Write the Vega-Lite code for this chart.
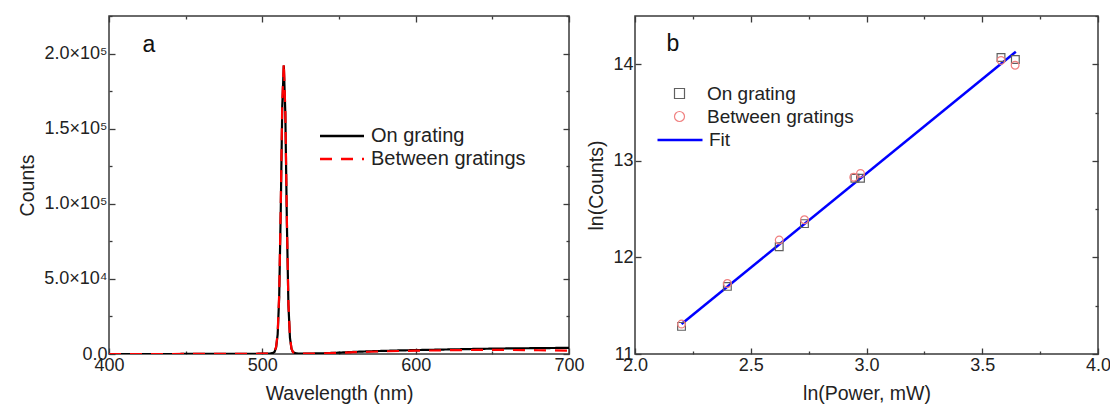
{
  "$schema": "https://vega.github.io/schema/vega-lite/v6.json",
  "padding": {"left": 16, "top": 14, "right": 8, "bottom": 0},
  "spacing": 1,
  "config": {
    "font": "Liberation Sans",
    "view": {"stroke": "#3a3a3a", "strokeWidth": 1.5},
    "axis": {"grid": false, "domain": false, "labelFontSize": 18, "titleFontSize": 19.5, "labelColor": "#222222", "titleColor": "#222222", "titleFontWeight": "normal", "tickColor": "#3a3a3a", "tickWidth": 1.3, "labelPadding": 8, "labelFlush": false},
    "legend": {"labelFontSize": 19, "labelColor": "#222222", "padding": 0}
  },
  "datasets": {
    "spectrum": [
      {"wavelength": 400, "counts": 0, "series": "On grating"},
      {"wavelength": 420, "counts": 0, "series": "On grating"},
      {"wavelength": 440, "counts": 0, "series": "On grating"},
      {"wavelength": 460, "counts": 50, "series": "On grating"},
      {"wavelength": 480, "counts": 100, "series": "On grating"},
      {"wavelength": 500, "counts": 200, "series": "On grating"},
      {"wavelength": 505, "counts": 300, "series": "On grating"},
      {"wavelength": 507, "counts": 700, "series": "On grating"},
      {"wavelength": 508, "counts": 1500, "series": "On grating"},
      {"wavelength": 509, "counts": 4500, "series": "On grating"},
      {"wavelength": 510, "counts": 13000, "series": "On grating"},
      {"wavelength": 511, "counts": 38000, "series": "On grating"},
      {"wavelength": 512, "counts": 95000, "series": "On grating"},
      {"wavelength": 513, "counts": 165000, "series": "On grating"},
      {"wavelength": 514, "counts": 192000, "series": "On grating"},
      {"wavelength": 515, "counts": 160000, "series": "On grating"},
      {"wavelength": 516, "counts": 88000, "series": "On grating"},
      {"wavelength": 517, "counts": 33000, "series": "On grating"},
      {"wavelength": 518, "counts": 11000, "series": "On grating"},
      {"wavelength": 519, "counts": 3500, "series": "On grating"},
      {"wavelength": 520, "counts": 1200, "series": "On grating"},
      {"wavelength": 522, "counts": 400, "series": "On grating"},
      {"wavelength": 525, "counts": 200, "series": "On grating"},
      {"wavelength": 530, "counts": 250, "series": "On grating"},
      {"wavelength": 540, "counts": 500, "series": "On grating"},
      {"wavelength": 550, "counts": 900, "series": "On grating"},
      {"wavelength": 560, "counts": 1400, "series": "On grating"},
      {"wavelength": 570, "counts": 1800, "series": "On grating"},
      {"wavelength": 580, "counts": 2100, "series": "On grating"},
      {"wavelength": 590, "counts": 2400, "series": "On grating"},
      {"wavelength": 600, "counts": 2600, "series": "On grating"},
      {"wavelength": 620, "counts": 3000, "series": "On grating"},
      {"wavelength": 640, "counts": 3400, "series": "On grating"},
      {"wavelength": 660, "counts": 3700, "series": "On grating"},
      {"wavelength": 680, "counts": 3900, "series": "On grating"},
      {"wavelength": 700, "counts": 4100, "series": "On grating"},
      {"wavelength": 400, "counts": 0, "series": "Between gratings"},
      {"wavelength": 420, "counts": 0, "series": "Between gratings"},
      {"wavelength": 440, "counts": 0, "series": "Between gratings"},
      {"wavelength": 460, "counts": 50, "series": "Between gratings"},
      {"wavelength": 480, "counts": 100, "series": "Between gratings"},
      {"wavelength": 500, "counts": 200, "series": "Between gratings"},
      {"wavelength": 505, "counts": 300, "series": "Between gratings"},
      {"wavelength": 507, "counts": 700, "series": "Between gratings"},
      {"wavelength": 508, "counts": 1600, "series": "Between gratings"},
      {"wavelength": 509, "counts": 4800, "series": "Between gratings"},
      {"wavelength": 510, "counts": 14000, "series": "Between gratings"},
      {"wavelength": 511, "counts": 40000, "series": "Between gratings"},
      {"wavelength": 512, "counts": 98000, "series": "Between gratings"},
      {"wavelength": 513, "counts": 168000, "series": "Between gratings"},
      {"wavelength": 514, "counts": 194000, "series": "Between gratings"},
      {"wavelength": 515, "counts": 162000, "series": "Between gratings"},
      {"wavelength": 516, "counts": 90000, "series": "Between gratings"},
      {"wavelength": 517, "counts": 34000, "series": "Between gratings"},
      {"wavelength": 518, "counts": 11500, "series": "Between gratings"},
      {"wavelength": 519, "counts": 3600, "series": "Between gratings"},
      {"wavelength": 520, "counts": 1200, "series": "Between gratings"},
      {"wavelength": 522, "counts": 400, "series": "Between gratings"},
      {"wavelength": 525, "counts": 200, "series": "Between gratings"},
      {"wavelength": 530, "counts": 250, "series": "Between gratings"},
      {"wavelength": 540, "counts": 450, "series": "Between gratings"},
      {"wavelength": 550, "counts": 800, "series": "Between gratings"},
      {"wavelength": 560, "counts": 1200, "series": "Between gratings"},
      {"wavelength": 570, "counts": 1500, "series": "Between gratings"},
      {"wavelength": 580, "counts": 1800, "series": "Between gratings"},
      {"wavelength": 590, "counts": 2000, "series": "Between gratings"},
      {"wavelength": 600, "counts": 2200, "series": "Between gratings"},
      {"wavelength": 620, "counts": 2500, "series": "Between gratings"},
      {"wavelength": 640, "counts": 2700, "series": "Between gratings"},
      {"wavelength": 660, "counts": 2700, "series": "Between gratings"},
      {"wavelength": 680, "counts": 2500, "series": "Between gratings"},
      {"wavelength": 700, "counts": 2300, "series": "Between gratings"}
    ],
    "power": [
      {"lnP": 2.201, "lnC": 11.286, "series": "On grating"},
      {"lnP": 2.399, "lnC": 11.70, "series": "On grating"},
      {"lnP": 2.623, "lnC": 12.11, "series": "On grating"},
      {"lnP": 2.732, "lnC": 12.35, "series": "On grating"},
      {"lnP": 2.950, "lnC": 12.82, "series": "On grating"},
      {"lnP": 2.974, "lnC": 12.82, "series": "On grating"},
      {"lnP": 3.581, "lnC": 14.07, "series": "On grating"},
      {"lnP": 3.643, "lnC": 14.05, "series": "On grating"},
      {"lnP": 2.201, "lnC": 11.31, "series": "Between gratings"},
      {"lnP": 2.399, "lnC": 11.73, "series": "Between gratings"},
      {"lnP": 2.623, "lnC": 12.18, "series": "Between gratings"},
      {"lnP": 2.732, "lnC": 12.39, "series": "Between gratings"},
      {"lnP": 2.945, "lnC": 12.83, "series": "Between gratings"},
      {"lnP": 2.974, "lnC": 12.87, "series": "Between gratings"},
      {"lnP": 3.581, "lnC": 14.04, "series": "Between gratings"},
      {"lnP": 3.642, "lnC": 13.99, "series": "Between gratings"}
    ],
    "fit": [
      {"lnP": 2.201, "lnC": 11.31, "name": "Fit"},
      {"lnP": 3.645, "lnC": 14.13, "name": "Fit"}
    ]
  },
  "hconcat": [
    {
      "width": 460,
      "height": 338,
      "layer": [
        {
          "data": {"name": "spectrum"},
          "mark": {"type": "line", "strokeWidth": 2.2, "clip": true},
          "encoding": {
            "x": {"field": "wavelength", "type": "quantitative",
              "scale": {"domain": [400, 700], "nice": false, "zero": false},
              "axis": {"orient": "bottom", "title": "Wavelength (nm)", "values": [400, 450, 500, 550, 600, 650, 700],
                "labelExpr": "datum.value % 100 === 0 ? datum.label : ''",
                "tickSize": {"condition": {"test": "datum.value % 100 !== 0", "value": -3}, "value": -6},
                "titlePadding": 10}},
            "y": {"field": "counts", "type": "quantitative",
              "scale": {"domain": [0, 225000], "nice": false},
              "axis": {"orient": "left", "title": "Counts", "values": [0, 25000, 50000, 75000, 100000, 125000, 150000, 175000, 200000, 225000],
                "labelExpr": "datum.value === 0 ? '0.0' : (datum.value % 50000 !== 0 ? '' : (datum.value < 100000 ? format(datum.value / 10000, '.1f') + '×10⁴' : format(datum.value / 100000, '.1f') + '×10⁵'))",
                "tickSize": {"condition": {"test": "datum.value % 50000 !== 0", "value": -3}, "value": -6},
                "titlePadding": 6}},
            "color": {"field": "series", "type": "nominal",
              "scale": {"domain": ["On grating", "Between gratings"], "range": ["#000000", "#ff0000"]},
              "legend": {"title": null, "orient": "none", "legendX": 223, "legendY": 110, "symbolType": "M-4.4,0H4.4", "symbolSize": 100, "symbolStrokeWidth": 2.5, "labelOffset": 19, "rowPadding": 3, "labelFontSize": 20}},
            "strokeDash": {"field": "series", "type": "nominal",
              "scale": {"domain": ["On grating", "Between gratings"], "range": [[1, 0], [12, 9]]},
              "legend": {"title": null, "orient": "none", "legendX": 223, "legendY": 110, "symbolType": "M-4.4,0H4.4", "symbolSize": 100, "symbolStrokeWidth": 2.5, "labelOffset": 19, "rowPadding": 3, "labelFontSize": 20}}
          }
        },
        {
          "data": {"values": [{}]},
          "mark": {"type": "text", "text": "a", "fontSize": 23, "baseline": "middle", "align": "center", "color": "#111111"},
          "encoding": {
            "x": {"datum": 426, "type": "quantitative",
              "axis": {"orient": "top", "title": null, "labels": false, "values": [400, 450, 500, 550, 600, 650, 700],
                "tickSize": {"condition": {"test": "datum.value % 100 !== 0", "value": -3}, "value": -6}}},
            "y": {"datum": 206000, "type": "quantitative",
              "axis": {"orient": "right", "title": null, "labels": false, "values": [0, 25000, 50000, 75000, 100000, 125000, 150000, 175000, 200000, 225000],
                "tickSize": {"condition": {"test": "datum.value % 50000 !== 0", "value": -3}, "value": -6}}}
          }
        }
      ],
      "resolve": {"axis": {"x": "independent", "y": "independent"}}
    },
    {
      "width": 463,
      "height": 338,
      "layer": [
        {
          "data": {"name": "fit"},
          "mark": {"type": "line", "strokeWidth": 2.5, "color": "#0000ff"},
          "encoding": {
            "x": {"field": "lnP", "type": "quantitative",
              "scale": {"domain": [2.0, 4.0], "nice": false, "zero": false},
              "axis": {"orient": "bottom", "title": "ln(Power, mW)", "values": [2.0, 2.25, 2.5, 2.75, 3.0, 3.25, 3.5, 3.75, 4.0],
                "format": ".1f",
                "labelExpr": "abs(datum.value * 2 - round(datum.value * 2)) > 0.01 ? '' : datum.label",
                "tickSize": {"condition": {"test": "abs(datum.value * 2 - round(datum.value * 2)) > 0.01", "value": -3}, "value": -6},
                "titlePadding": 10}},
            "y": {"field": "lnC", "type": "quantitative",
              "scale": {"domain": [11, 14.5], "nice": false, "zero": false},
              "axis": {"orient": "left", "title": "ln(Counts)", "values": [11, 11.5, 12, 12.5, 13, 13.5, 14, 14.5],
                "format": "d",
                "labelExpr": "datum.value % 1 !== 0 ? '' : datum.label",
                "tickSize": {"condition": {"test": "datum.value % 1 !== 0", "value": -3}, "value": -6},
                "titlePadding": 6}},
            "color": {"field": "name", "type": "nominal",
              "scale": {"domain": ["Fit"], "range": ["#0000ff"]},
              "legend": {"title": null, "orient": "none", "legendX": 21, "legendY": 100, "symbolType": "stroke", "symbolSize": 2025, "symbolStrokeWidth": 2.5, "labelOffset": 5, "rowPadding": -22}}
          }
        },
        {
          "data": {"name": "power"},
          "mark": {"type": "point", "filled": false, "size": 60, "strokeWidth": 1.2, "opacity": 1},
          "encoding": {
            "x": {"field": "lnP", "type": "quantitative",
              "axis": {"orient": "top", "title": null, "labels": false, "values": [2.0, 2.25, 2.5, 2.75, 3.0, 3.25, 3.5, 3.75, 4.0],
                "tickSize": {"condition": {"test": "abs(datum.value * 2 - round(datum.value * 2)) > 0.01", "value": -3}, "value": -6}}},
            "y": {"field": "lnC", "type": "quantitative",
              "axis": {"orient": "right", "title": null, "labels": false, "values": [11, 11.5, 12, 12.5, 13, 13.5, 14, 14.5],
                "tickSize": {"condition": {"test": "datum.value % 1 !== 0", "value": -3}, "value": -6}}},
            "color": {"field": "series", "type": "nominal",
              "scale": {"domain": ["On grating", "Between gratings"], "range": ["#606060", "#f08080"]},
              "legend": {"title": null, "orient": "none", "legendX": 35, "legendY": 68, "labelOffset": 18, "rowPadding": 3, "symbolStrokeWidth": 1.2}},
            "shape": {"field": "series", "type": "nominal",
              "scale": {"domain": ["On grating", "Between gratings"], "range": ["square", "circle"]},
              "legend": {"title": null, "orient": "none", "legendX": 35, "legendY": 68, "labelOffset": 18, "rowPadding": 3, "symbolStrokeWidth": 1.2}}
          }
        },
        {
          "data": {"values": [{}]},
          "mark": {"type": "text", "text": "b", "fontSize": 23, "baseline": "middle", "align": "center", "color": "#111111"},
          "encoding": {
            "x": {"datum": 2.164, "type": "quantitative", "axis": null},
            "y": {"datum": 14.21, "type": "quantitative", "axis": null}
          }
        }
      ],
      "resolve": {"axis": {"x": "independent", "y": "independent"}, "scale": {"color": "independent", "shape": "independent"}}
    }
  ]
}
